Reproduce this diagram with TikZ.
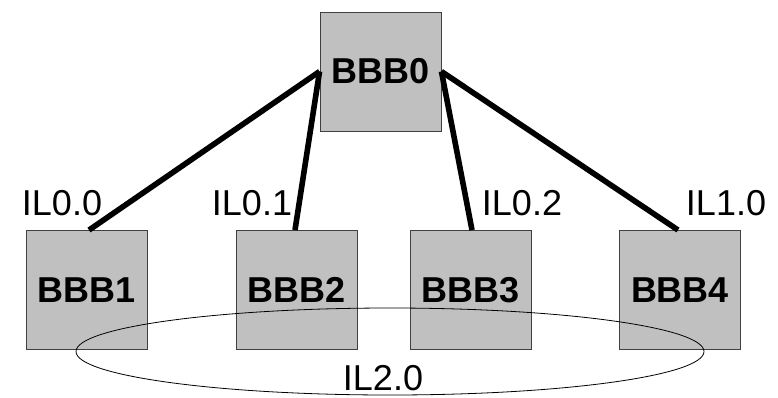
\documentclass[tikz,border=0pt]{standalone}
\usepackage{fontspec}
\setmainfont{Liberation Sans}
\definecolor{boxfill}{HTML}{C0C0C0}
\definecolor{boxline}{HTML}{404040}
\begin{document}
\begin{tikzpicture}[x=1pt,y=-1pt,
  bbb/.style={draw=boxline,line width=0.9pt,fill=boxfill,minimum width=121pt,minimum height=119pt,
    inner sep=0pt,font=\fontsize{36}{36}\selectfont\bfseries},
  link/.style={line width=5.6pt},
  lbl/.style={font=\fontsize{36}{36}\selectfont,inner sep=0pt}]
\useasboundingbox (0,0) rectangle (778,397);
% building blocks
\node[bbb] (b0) at (380.5,71.5) {BBB0};
\node[bbb] (b1) at (87,290) {BBB1};
\node[bbb] (b2) at (297,290) {BBB2};
\node[bbb] (b3) at (471,290) {BBB3};
\node[bbb] (b4) at (680,290) {BBB4};
% links from the root block
\draw[link] (b0.west) -- ([xshift=2pt]b1.north);
\draw[link] (b0.west) -- ([xshift=-2pt]b2.north);
\draw[link] (b0.east) -- ([xshift=1pt]b3.north);
\draw[link] (b0.east) -- ([xshift=-2pt]b4.north);
% link names
\node[lbl] (l00) at (62,203) {IL0.0};
\node[lbl] (l01) at (252,203) {IL0.1};
\node[lbl] (l02) at (522,203) {IL0.2};
\node[lbl] (l10) at (726,203) {IL1.0};
% ring joining the lower blocks
\coordinate (ring) at (390,351.5);
\draw[line width=0.8pt] (ring) ellipse [x radius=314, y radius=43.5];
\node[lbl] (l20) at (383,378) {IL2.0};
\end{tikzpicture}
\end{document}
